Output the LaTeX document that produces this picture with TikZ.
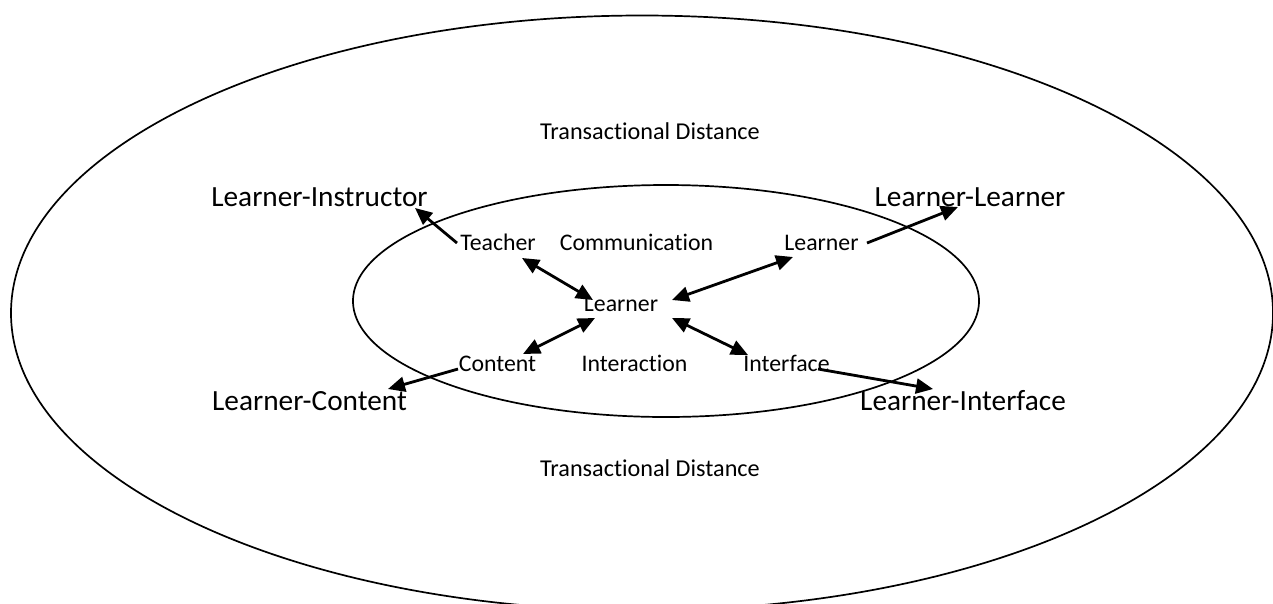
\documentclass[tikz,border=0pt]{standalone}
\usepackage{fontspec}
\setmainfont[Ligatures=NoCommon]{Carlito}
\usetikzlibrary{arrows.meta}
\begin{document}
\begin{tikzpicture}[x=1pt,y=-1pt,
  ring/.style={draw=black,line width=1.7pt},
  big/.style={inner sep=0pt,font=\fontsize{29.3}{34}\selectfont},
  mid/.style={inner sep=0pt,font=\fontsize{24.2}{29}\selectfont},
  small/.style={inner sep=0pt,font=\fontsize{23.8}{28}\selectfont},
  link/.style={line width=2.8pt,-{Triangle[length=17pt,width=15pt]}},
  twoway/.style={line width=2.8pt,{Triangle[length=17pt,width=15pt]}-{Triangle[length=17pt,width=15pt]}}]
\useasboundingbox (0,0) rectangle (1273,603);
\clip (0,0) rectangle (1273,603);

% outer and inner regions
\draw[ring] (642,313) ellipse [x radius=631, y radius=297.5];
\draw[ring] (666,301) ellipse [x radius=313, y radius=116];

% outer labels
\node[mid,anchor=base] (tdtop) at (650,139) {Transactional Distance};
\node[mid,anchor=base] (tdbot) at (650,476) {Transactional Distance};
\node[big,anchor=base] (li) at (319.5,206) {Learner-Instructor};
\node[big,anchor=base] (ll) at (970,206) {Learner-Learner};
\node[big,anchor=base] (lc) at (309.5,410) {Learner-Content};
\node[big,anchor=base] (lf) at (963,410) {Learner-Interface};

% inner labels
\node[small,anchor=base] (teacher) at (498,250) {Teacher};
\node[small,anchor=base] (comm) at (636.5,250) {Communication};
\node[small,anchor=base] (peer) at (821.5,250) {Learner};
\node[small,anchor=base] (learner) at (621,311) {Learner};
\node[small,anchor=base] (content) at (497.5,371) {Content};
\node[small,anchor=base] (inter) at (634.5,371) {Interaction};
\node[small,anchor=base] (iface) at (786.5,371) {Interface};

% arrow end points
\coordinate (t1a) at (457,243);  \coordinate (t1b) at (415,208);
\coordinate (t2a) at (522,258);  \coordinate (t2b) at (593,300);
\coordinate (t3a) at (793,257);  \coordinate (t3b) at (672,300);
\coordinate (t4a) at (595,318);  \coordinate (t4b) at (523,354);
\coordinate (t5a) at (672,318);  \coordinate (t5b) at (748,355);
\coordinate (t6a) at (458,369);  \coordinate (t6b) at (388,389);
\coordinate (t7a) at (867,243);  \coordinate (t7b) at (958,207);
\coordinate (t8a) at (818,369);  \coordinate (t8b) at (933,389);

% interactions
\draw[link] (t1a) -- (t1b);
\draw[twoway] (t2a) -- (t2b);
\draw[twoway] (t3a) -- (t3b);
\draw[twoway] (t4a) -- (t4b);
\draw[twoway] (t5a) -- (t5b);
\draw[link] (t6a) -- (t6b);
\draw[link] (t7a) -- (t7b);
\draw[link] (t8a) -- (t8b);
\end{tikzpicture}
\end{document}
